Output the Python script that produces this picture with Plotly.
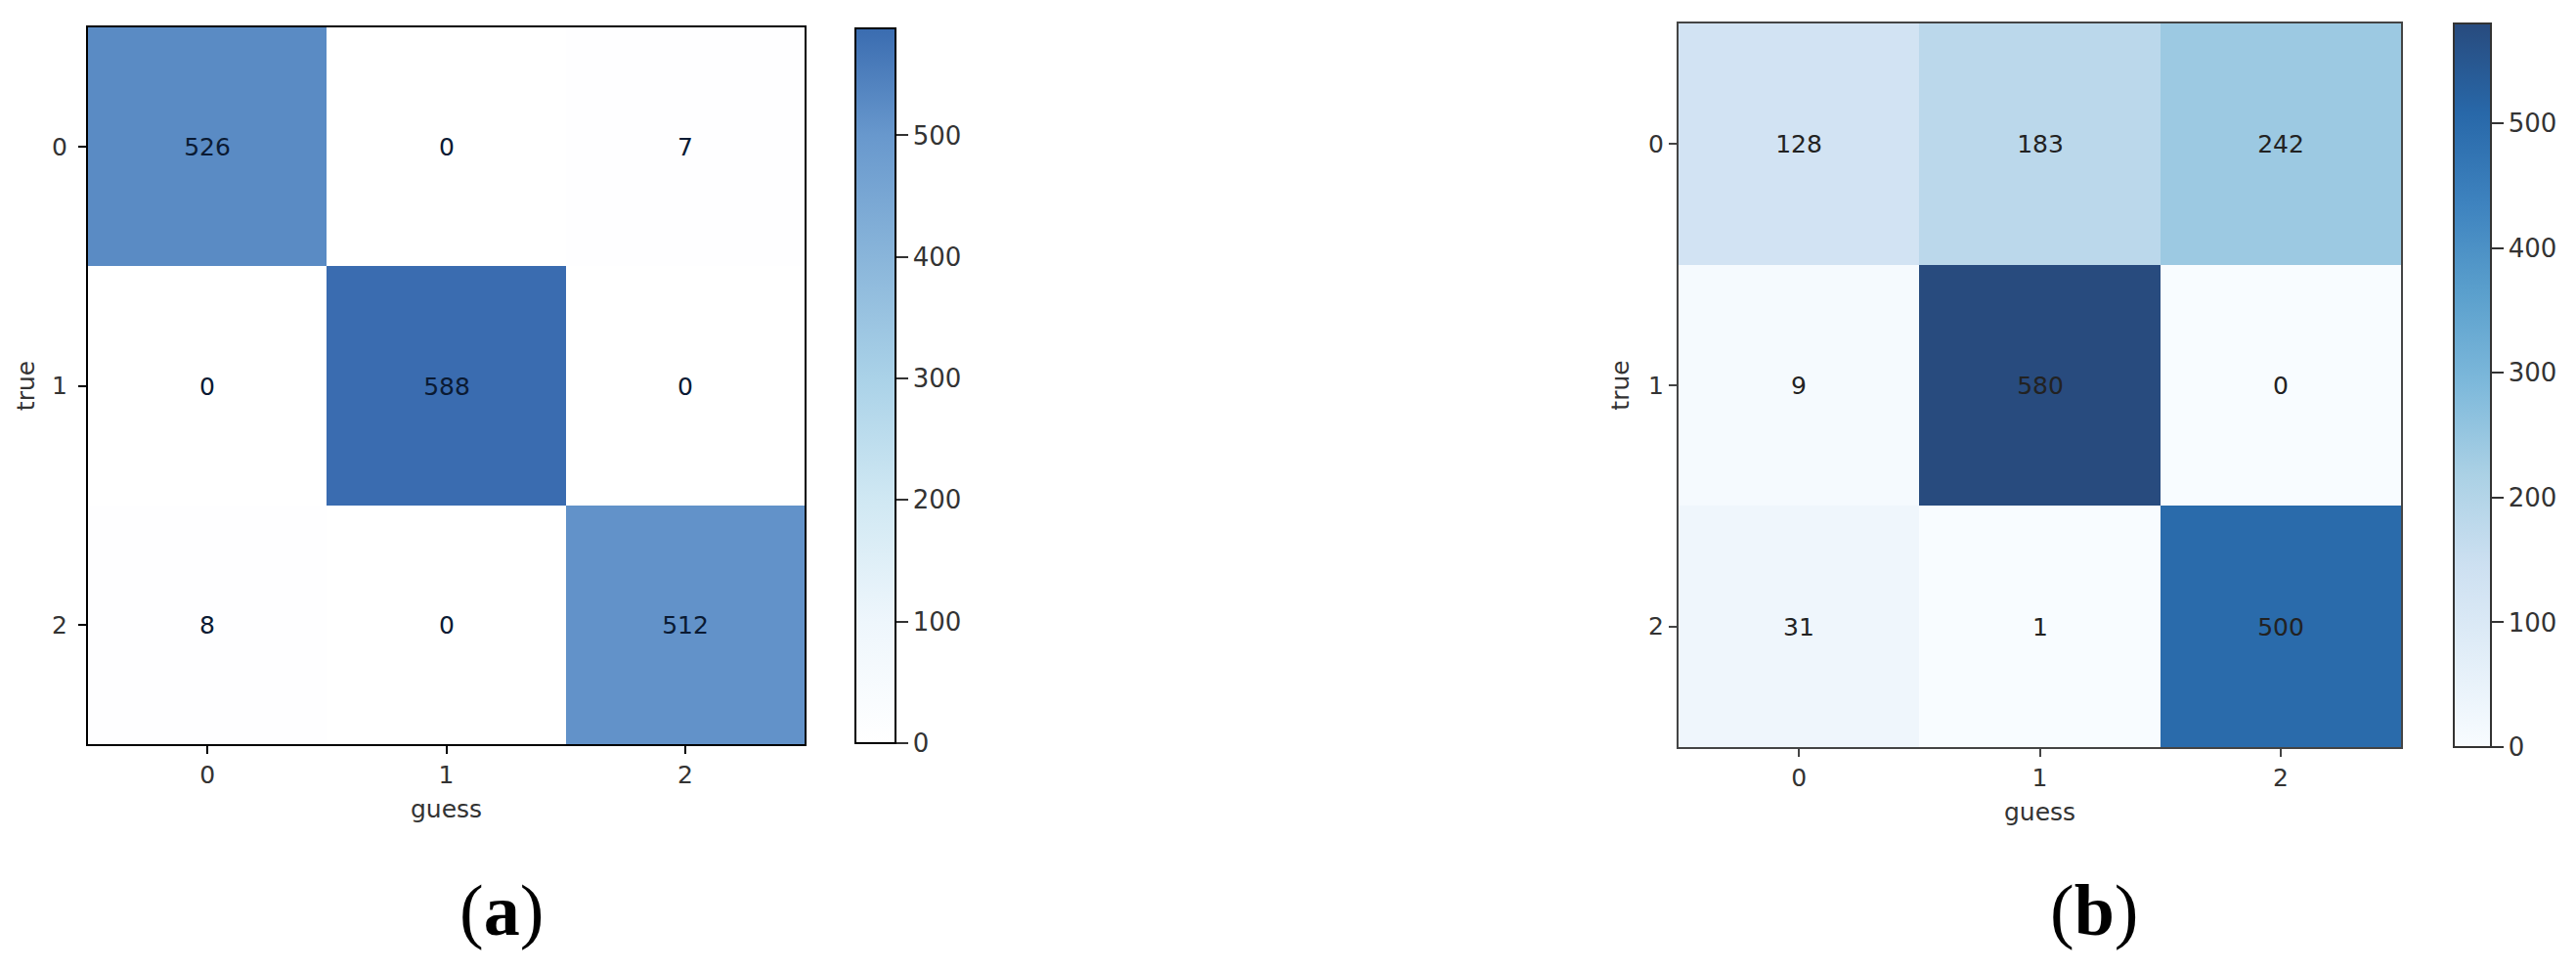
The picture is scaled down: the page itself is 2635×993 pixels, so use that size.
import plotly.graph_objects as go

labels = ['0', '1', '2']
cm_a = [[526, 0, 7],
        [0, 588, 0],
        [8, 0, 512]]
cm_b = [[128, 183, 242],
        [9, 580, 0],
        [31, 1, 500]]
cbar_ticks = [0, 100, 200, 300, 400, 500]

W, H = 2635, 993

# left panel uses a washed out blue map, right panel is matplotlib Blues at ~0.87 alpha
scale_a = [[0.0, 'rgb(255,255,255)'], [0.17, 'rgb(238,246,252)'], [0.34, 'rgb(208,232,243)'],
           [0.51, 'rgb(170,210,232)'], [0.68, 'rgb(137,181,218)'], [0.85, 'rgb(104,152,205)'],
           [1.0, 'rgb(58,108,176)']]
blues = [(247, 251, 255), (222, 235, 247), (198, 219, 239), (158, 202, 225), (107, 174, 214),
         (66, 146, 198), (33, 113, 181), (8, 81, 156), (8, 48, 107)]
a = 0.87
scale_b = [[i / 8, 'rgb(%d,%d,%d)' % tuple(round(a * c + (1 - a) * 255) for c in col)]
           for i, col in enumerate(blues)]

font = 'DejaVu Sans'


def px_x(p):
    return p / W


def px_y(p):
    return 1 - p / H


def cbar(x0, top, bottom, thick, line):
    return dict(x=px_x(x0), xanchor='left', y=px_y(bottom), yanchor='bottom',
                len=(bottom - top) / H, lenmode='fraction', thickness=thick,
                outlinewidth=2, outlinecolor=line, xpad=0, ypad=0,
                ticks='outside', ticklen=12, tickwidth=1.5, tickcolor='#333',
                tickvals=cbar_ticks, tickfont=dict(family=font, size=26, color='#333'))


fig = go.Figure()
fig.add_trace(go.Heatmap(z=cm_a, x=[0, 1, 2], y=[0, 1, 2], colorscale=scale_a, zmin=0,
                         texttemplate='%{z}', textfont=dict(family=font, size=25, color='#0a1a33'),
                         colorbar=cbar(875, 29, 760, 41, 'black'), xaxis='x', yaxis='y'))
fig.add_trace(go.Heatmap(z=cm_b, x=[0, 1, 2], y=[0, 1, 2], colorscale=scale_b, zmin=0,
                         texttemplate='%{z}', textfont=dict(family=font, size=25, color='#222'),
                         colorbar=cbar(2510, 24, 764, 38, '#333'), xaxis='x2', yaxis='y2'))

ax = dict(tickmode='array', tickvals=[0, 1, 2], ticktext=labels, ticks='outside', ticklen=8,
          tickwidth=1.5, showgrid=False, zeroline=False, showline=True, mirror=True, linewidth=2,
          tickfont=dict(family=font, size=25, color='#333'))

fig.update_layout(
    width=W, height=H, margin=dict(l=0, r=0, t=0, b=0),
    paper_bgcolor='white', plot_bgcolor='white', showlegend=False,
    xaxis=dict(ax, domain=[px_x(90), px_x(823)], range=[-0.5, 2.5], anchor='y', linecolor='black',
               tickcolor='black',
               title=dict(text='guess', standoff=12, font=dict(family=font, size=25, color='#333'))),
    yaxis=dict(ax, domain=[px_y(761), px_y(28)], range=[2.5, -0.5], anchor='x', linecolor='black',
               tickcolor='black', ticklabelstandoff=6,
               title=dict(text='true', standoff=10, font=dict(family=font, size=25, color='#333'))),
    xaxis2=dict(ax, domain=[px_x(1717), px_x(2456)], range=[-0.5, 2.5], anchor='y2',
                linecolor='#444', tickcolor='#444',
                title=dict(text='guess', standoff=12, font=dict(family=font, size=25, color='#333'))),
    yaxis2=dict(ax, domain=[px_y(764), px_y(24)], range=[2.5, -0.5], anchor='x2',
                linecolor='#444', tickcolor='#444',
                title=dict(text='true', standoff=12, font=dict(family=font, size=25, color='#333'))),
)

for txt, xc in [('(<b>a</b>)', 513), ('(<b>b</b>)', 2142)]:
    fig.add_annotation(text=txt, x=px_x(xc), y=px_y(931), xref='paper', yref='paper',
                       xanchor='center', yanchor='middle', showarrow=False,
                       font=dict(family='Liberation Serif', size=74, color='black'))

fig.write_html("out.html", config={'displayModeBar': False},
               post_script="document.body.style.margin='0';")
